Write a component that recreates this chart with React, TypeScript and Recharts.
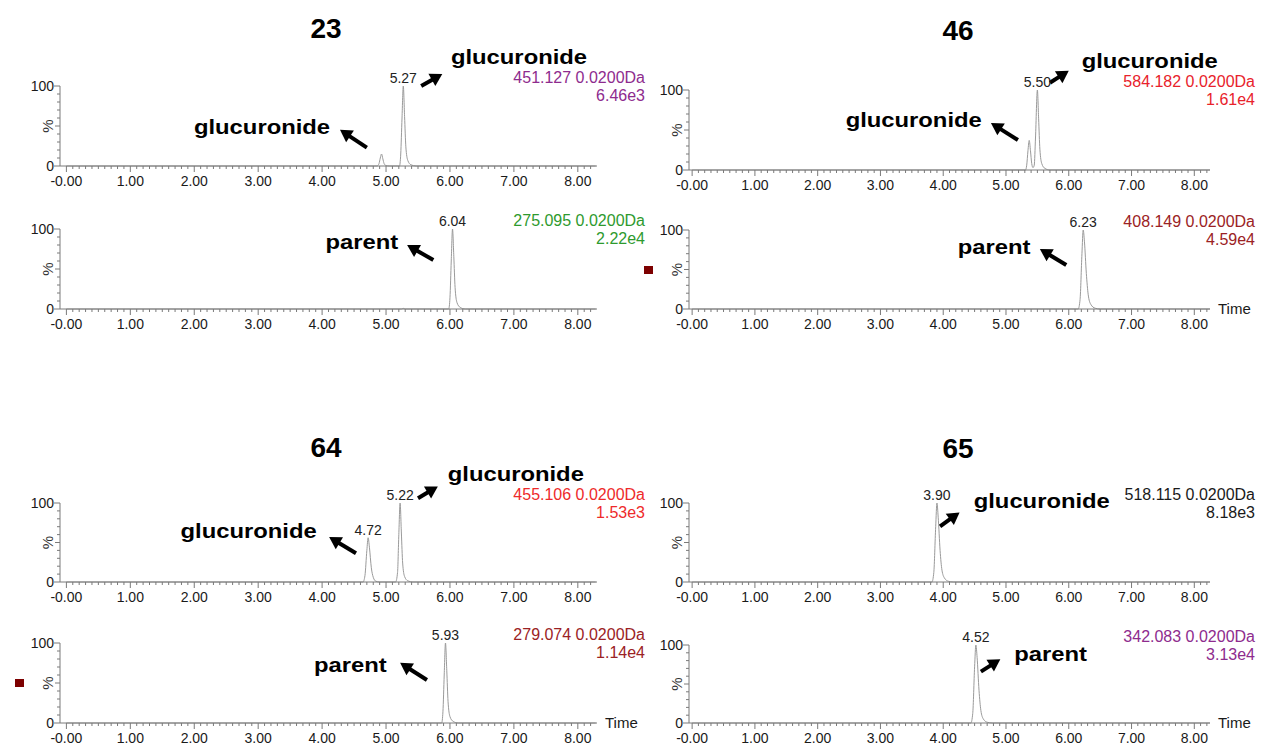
import { LineChart, Line, XAxis, YAxis, ReferenceDot, ReferenceLine } from 'recharts'

// retention time (min) / relative intensity (%) for each extracted-ion trace
const t23Gluc = [0, 4.86, 4.89, 4.91, 4.93, 4.95, 4.97, 5.0, 5.05, 5.21, 5.23, 5.25, 5.27, 5.29, 5.31, 5.34, 5.39, 5.47, 8.28]
const v23Gluc = [0, 0, 3, 10, 15, 9, 3, 0.5, 0, 0, 15, 60, 100, 62, 24, 7, 1.5, 0, 0]
const t23Parent = [0, 5.24, 5.27, 5.3, 5.98, 6.0, 6.02, 6.04, 6.06, 6.08, 6.11, 6.16, 6.24, 8.28]
const v23Parent = [0, 0, 0.8, 0, 0, 14, 60, 100, 66, 27, 8, 2, 0, 0]

const t46Gluc = [0, 5.31, 5.33, 5.35, 5.37, 5.39, 5.41, 5.43, 5.45, 5.47, 5.5, 5.52, 5.54, 5.57, 5.62, 5.7, 8.25]
const v46Gluc = [0, 0, 6, 24, 37, 24, 8, 3, 6, 40, 100, 64, 26, 8, 2, 0, 0]
const t46Parent = [0, 6.15, 6.18, 6.21, 6.23, 6.25, 6.28, 6.31, 6.35, 6.42, 6.5, 8.25]
const v46Parent = [0, 0, 12, 70, 100, 85, 45, 18, 6, 1, 0, 0]

const t64Gluc = [0, 4.64, 4.67, 4.7, 4.72, 4.74, 4.77, 4.8, 4.84, 4.9, 5.15, 5.18, 5.2, 5.22, 5.24, 5.26, 5.29, 5.34, 5.42, 8.28]
const v64Gluc = [0, 0, 8, 40, 56, 44, 18, 6, 1, 0, 0, 12, 60, 100, 62, 24, 7, 1.5, 0, 0]
const t64Parent = [0, 5.87, 5.89, 5.91, 5.93, 5.95, 5.97, 6.0, 6.05, 6.13, 8.28]
const v64Parent = [0, 0, 14, 60, 100, 66, 27, 8, 2, 0, 0]

const t65Gluc = [0, 3.82, 3.85, 3.88, 3.9, 3.92, 3.95, 3.98, 4.02, 4.08, 4.16, 8.25]
const v65Gluc = [0, 0, 12, 70, 100, 82, 40, 15, 5, 1, 0, 0]
const t65Parent = [0, 4.44, 4.47, 4.5, 4.52, 4.54, 4.57, 4.6, 4.64, 4.7, 4.78, 8.25]
const v65Parent = [0, 0, 12, 72, 100, 84, 42, 16, 5, 1, 0, 0]

// labelled peak apexes
const peaks23Gluc = [5.27]
const peaks23Parent = [6.04]
const peaks46Gluc = [5.5]
const peaks46Parent = [6.23]
const peaks64Gluc = [4.72, 5.22]
const peaks64Parent = [5.93]
const peaks65Gluc = [3.9]
const peaks65Parent = [4.52]

const COMPOUNDS = ['23', '46', '64', '65']
const X_TICK_LABELS = ['-0.00', '1.00', '2.00', '3.00', '4.00', '5.00', '6.00', '7.00', '8.00']
const X_TICKS = Array.from({ length: 83 }, (_, i) => i / 10)
const Y_TICKS = [0, 10, 20, 30, 40, 50, 60, 70, 80, 90, 100]

const AXIS = '#7a7a7a'
const TRACE = '#9a9a9a'
const FONT = '"Liberation Sans", Arial, Helvetica, sans-serif'

const LEFT = { left: 0, width: 660, yAxisWidth: 60, marginRight: 63, domain: [-0.1, 8.3] }
const RIGHT = { left: 630, width: 633, yAxisWidth: 59, marginRight: 53, domain: [-0.05, 8.25] }
const MT = 50
const XH = 30

const XTick = (props: any) => {
  const { x, y, payload } = props
  const v = payload.value
  const major = Math.abs(v - Math.round(v)) < 1e-6
  return (
    <g>
      <line x1={x} x2={x} y1={y} y2={y + (major ? 6 : 3)} stroke={AXIS} />
      {major && (
        <text x={x} y={y + 20} textAnchor="middle" fontSize={14} fill="#1a1a1a">
          {X_TICK_LABELS[Math.round(v)]}
        </text>
      )}
    </g>
  )
}

const YTick = (props: any) => {
  const { x, y, payload } = props
  const v = payload.value
  const len = v === 0 || v === 100 ? 6 : v === 50 ? 5 : 3
  return (
    <g>
      <line x1={x - len} x2={x} y1={y} y2={y} stroke={AXIS} />
      {(v === 0 || v === 100) && (
        <text x={x - 6} y={y + 5} textAnchor="end" fontSize={14} fill="#1a1a1a">
          {v}
        </text>
      )}
      {v === 50 && (
        <text x={x - 12} y={y} transform={`rotate(-90 ${x - 12} ${y})`} textAnchor="middle" dy={5} fontSize={15} fill="#333">
          %
        </text>
      )}
    </g>
  )
}

const Arrow = (p: any) => {
  const { x1, y1, x2, y2 } = p
  const dx = x2 - x1
  const dy = y2 - y1
  const len = Math.hypot(dx, dy) || 1
  const ux = dx / len
  const uy = dy / len
  const hl = 12
  const hw = 7
  const bx = x2 - ux * hl
  const by = y2 - uy * hl
  return (
    <g>
      <line x1={x1} y1={y1} x2={bx + ux * 2} y2={by + uy * 2} stroke="#000" strokeWidth={4} />
      <polygon points={`${x2},${y2} ${bx - uy * hw},${by + ux * hw} ${bx + uy * hw},${by - ux * hw}`} fill="#000" />
    </g>
  )
}

const noteText = (label: string) => (p: any) => (
  <g transform={`translate(${p.cx},${p.cy}) scale(1.19,1)`}>
    <text textAnchor="middle" dy={6} fontSize={20} fontWeight="bold" fill="#000">
      {label}
    </text>
  </g>
)

const peakText = (label: string) => (p: any) => (
  <text x={p.cx} y={p.cy - 3} textAnchor="middle" fontSize={14} fill="#222">
    {label}
  </text>
)

type Note = { text: string; at: number[]; tail: number[]; head: number[] }

function Trace(props: {
  col: typeof LEFT
  y100: number
  plotH: number
  times: number[]
  values: number[]
  peaks: number[]
  mass: string[]
  massColor: string
  notes: Note[]
  showTime?: boolean
  marker?: boolean
}) {
  const { col, y100, plotH, times, values, peaks, mass, massColor, notes, showTime, marker } = props
  const data = times.map((t, i) => ({ t, v: values[i] }))
  const H = MT + plotH + XH
  const plotRight = col.width - col.marginRight
  return (
    <div style={{ position: 'absolute', left: col.left, top: y100 - MT, width: col.width, height: H }}>
      <LineChart width={col.width} height={H} data={data} margin={{ top: MT, right: col.marginRight, bottom: 0, left: 0 }}>
        <XAxis
          type="number"
          dataKey="t"
          domain={col.domain}
          ticks={X_TICKS}
          interval={0}
          tick={XTick}
          tickLine={false}
          tickSize={0}
          tickMargin={0}
          height={XH}
          axisLine={{ stroke: AXIS }}
          allowDataOverflow
        />
        <YAxis
          type="number"
          domain={[0, 100]}
          ticks={Y_TICKS}
          interval={0}
          tick={YTick}
          tickLine={false}
          tickSize={0}
          tickMargin={0}
          width={col.yAxisWidth}
          axisLine={{ stroke: AXIS }}
        />
        <Line type="monotone" dataKey="v" stroke={TRACE} strokeWidth={1} dot={false} isAnimationActive={false} />
        {peaks.map((t) => (
          <ReferenceDot key={t} x={t} y={values[times.indexOf(t)]} ifOverflow="visible" shape={peakText(t.toFixed(2))} />
        ))}
        {notes.map((n, i) => (
          <ReferenceLine
            key={'a' + i}
            segment={[
              { x: n.tail[0], y: n.tail[1] },
              { x: n.head[0], y: n.head[1] },
            ]}
            ifOverflow="visible"
            shape={Arrow}
          />
        ))}
        {notes.map((n, i) => (
          <ReferenceDot key={'n' + i} x={n.at[0]} y={n.at[1]} ifOverflow="visible" shape={noteText(n.text)} />
        ))}
      </LineChart>
      <div
        style={{
          position: 'absolute',
          right: col.width - (col === LEFT ? 645 : 1255 - col.left),
          top: MT - 17,
          textAlign: 'right',
          fontSize: 16,
          lineHeight: '18px',
          color: massColor,
          whiteSpace: 'nowrap',
        }}
      >
        <div>{mass[0]}</div>
        <div>{mass[1]}</div>
      </div>
      {showTime && (
        <div style={{ position: 'absolute', left: plotRight + 8, top: MT + plotH - 9, fontSize: 15, lineHeight: '18px', color: '#1a1a1a' }}>
          Time
        </div>
      )}
      {marker && (
        <div
          style={{
            position: 'absolute',
            left: col.yAxisWidth - 45,
            top: MT + plotH / 2 - 4,
            width: 9,
            height: 8,
            background: '#7d0000',
          }}
        />
      )}
    </div>
  )
}

function Title({ text, x, y }: { text: string; x: number; y: number }) {
  return (
    <div style={{ position: 'absolute', left: x - 40, top: y - 17, width: 80, textAlign: 'center', fontSize: 28, fontWeight: 'bold', lineHeight: '34px' }}>
      {text}
    </div>
  )
}

export default function App() {
  return (
    <div style={{ position: 'absolute', left: 0, top: 0, width: 1263, height: 750, background: '#fff', fontFamily: FONT, overflow: 'hidden' }}>
      <Title text={COMPOUNDS[0]} x={326} y={29} />
      <Title text={COMPOUNDS[1]} x={958} y={31} />
      <Title text={COMPOUNDS[2]} x={326} y={448} />
      <Title text={COMPOUNDS[3]} x={958} y={449} />

      <Trace
        col={LEFT}
        y100={86}
        plotH={80}
        times={t23Gluc}
        values={v23Gluc}
        peaks={peaks23Gluc}
        mass={['451.127 0.0200Da', '6.46e3']}
        massColor="#8e2b8e"
        notes={[
          { text: 'glucuronide', at: [7.08, 135], tail: [5.55, 100], head: [5.88, 115] },
          { text: 'glucuronide', at: [3.06, 47.8], tail: [4.7, 23], head: [4.28, 45.3] },
        ]}
      />
      <Trace
        col={LEFT}
        y100={229}
        plotH={80}
        times={t23Parent}
        values={v23Parent}
        peaks={peaks23Parent}
        mass={['275.095 0.0200Da', '2.22e4']}
        massColor="#2e9a2e"
        notes={[{ text: 'parent', at: [4.62, 82.5], tail: [5.74, 61.2], head: [5.33, 80] }]}
      />
      <Trace
        col={RIGHT}
        y100={90}
        plotH={80}
        times={t46Gluc}
        values={v46Gluc}
        peaks={peaks46Gluc}
        mass={['584.182 0.0200Da', '1.61e4']}
        massColor="#e8222b"
        notes={[
          { text: 'glucuronide', at: [7.29, 135], tail: [5.7, 109], head: [6.0, 124] },
          { text: 'glucuronide', at: [3.53, 61.6], tail: [5.19, 37.5], head: [4.76, 58.7] },
        ]}
      />
      <Trace
        col={RIGHT}
        y100={230}
        plotH={79}
        times={t46Parent}
        values={v46Parent}
        peaks={peaks46Parent}
        mass={['408.149 0.0200Da', '4.59e4']}
        massColor="#9b2224"
        notes={[{ text: 'parent', at: [4.81, 77.2], tail: [5.96, 55.7], head: [5.54, 75.9] }]}
        showTime
        marker
      />
      <Trace
        col={LEFT}
        y100={503}
        plotH={79}
        times={t64Gluc}
        values={v64Gluc}
        peaks={peaks64Gluc}
        mass={['455.106 0.0200Da', '1.53e3']}
        massColor="#ee2a2a"
        notes={[
          { text: 'glucuronide', at: [7.03, 135], tail: [5.5, 106], head: [5.81, 121] },
          { text: 'glucuronide', at: [2.85, 63.3], tail: [4.53, 36.3], head: [4.11, 57] },
        ]}
      />
      <Trace
        col={LEFT}
        y100={643}
        plotH={80}
        times={t64Parent}
        values={v64Parent}
        peaks={peaks64Parent}
        mass={['279.074 0.0200Da', '1.14e4']}
        massColor="#9b2224"
        notes={[{ text: 'parent', at: [4.44, 71.4], tail: [5.64, 53.8], head: [5.22, 75.2] }]}
        showTime
        marker
      />
      <Trace
        col={RIGHT}
        y100={503}
        plotH={79}
        times={t65Gluc}
        values={v65Gluc}
        peaks={peaks65Gluc}
        mass={['518.115 0.0200Da', '8.18e3']}
        massColor="#1a1a1a"
        notes={[{ text: 'glucuronide', at: [5.57, 100.8], tail: [3.95, 70.4], head: [4.26, 88.1] }]}
      />
      <Trace
        col={RIGHT}
        y100={645}
        plotH={78}
        times={t65Parent}
        values={v65Parent}
        peaks={peaks65Parent}
        mass={['342.083 0.0200Da', '3.13e4']}
        massColor="#8e2b8e"
        notes={[{ text: 'parent', at: [5.71, 87.2], tail: [4.6, 65.9], head: [4.91, 81.7] }]}
        showTime
      />
    </div>
  )
}
